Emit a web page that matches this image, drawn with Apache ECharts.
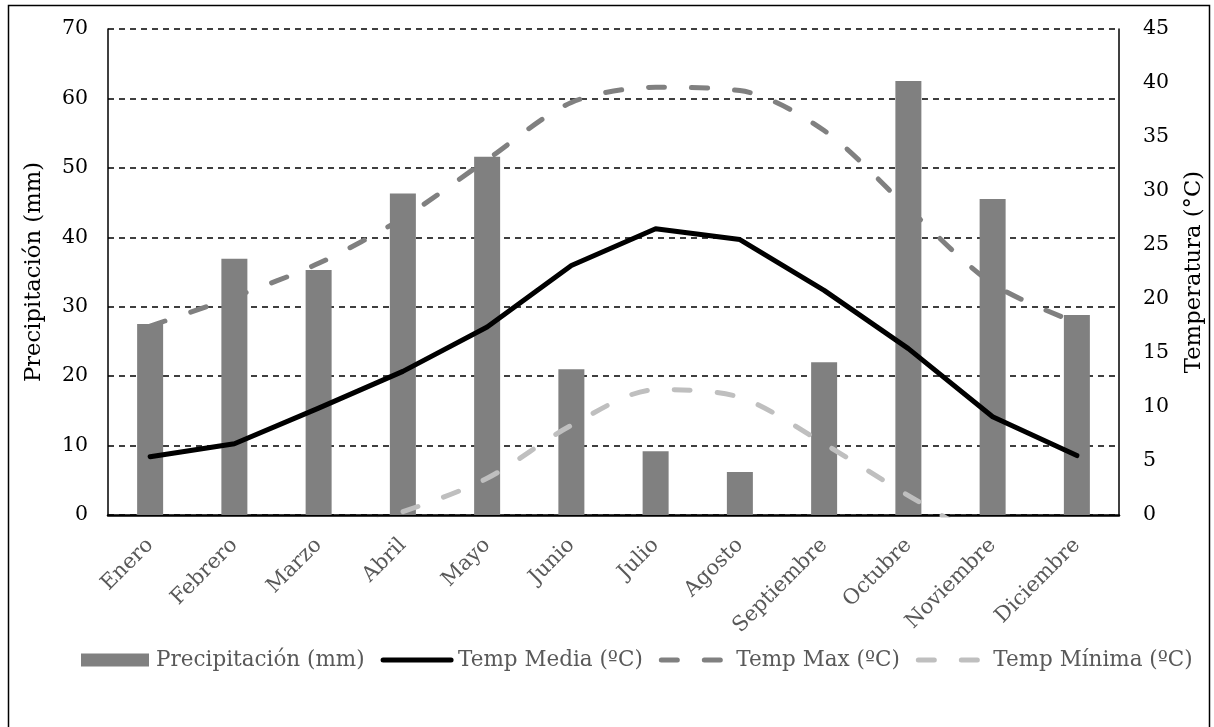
<!DOCTYPE html>
<html>
<head>
<meta charset="utf-8">
<script src="https://cdn.jsdelivr.net/npm/echarts@6/dist/echarts.min.js"></script>
<style>
  html, body { margin: 0; padding: 0; background: #fff; }
  #chart { width: 1214px; height: 727px; }
</style>
</head>
<body>
<div id="chart"></div>
<script>
// Climograma: precipitación mensual (barras) y temperaturas (líneas)
const months = ['Enero', 'Febrero', 'Marzo', 'Abril', 'Mayo', 'Junio', 'Julio',
  'Agosto', 'Septiembre', 'Octubre', 'Noviembre', 'Diciembre'];
const precipitation = [27.5, 36.9, 35.3, 46.3, 51.6, 21.0, 9.2, 6.2, 22.0, 62.5, 45.5, 28.8];
const tempMedia = [5.4, 6.6, 9.9, 13.3, 17.4, 23.1, 26.5, 25.5, 20.8, 15.4, 9.1, 5.5];
const tempMax = [17.5, 20.2, 23.3, 27.5, 32.9, 38.2, 39.6, 39.3, 35.6, 28.4, 21.4, 17.8];
const tempMin = [-4.0, -3.2, -2.0, 0.3, 3.4, 8.3, 11.6, 10.9, 6.6, 1.8, -2.5, -4.5];

const FONT = 'DejaVu Serif';
const DASH = [16, 27];
const hideSymbol = { opacity: 0 };
const chart = echarts.init(document.getElementById('chart'));

chart.setOption({
  animation: false,
  backgroundColor: '#fff',
  textStyle: { fontFamily: FONT },
  graphic: [{
    type: 'rect',
    shape: { x: 8.5, y: 5.5, width: 1201, height: 740 },
    style: { fill: 'none', stroke: '#000', lineWidth: 1.5 },
    silent: true,
    z: -10
  }],
  grid: { left: 108, right: 95, top: 29, bottom: 212, containLabel: false },
  legend: {
    left: 76,
    top: 644,
    itemWidth: 68,
    itemHeight: 13,
    itemGap: 16,
    textStyle: { fontFamily: FONT, fontSize: 21.5, color: '#595959', padding: [0, 0, 0, 2] },
    data: [
      { name: 'Precipitación (mm)', icon: 'rect' },
      { name: 'Temp Media (ºC)', itemStyle: hideSymbol,
        lineStyle: { width: 5, cap: 'round' } },
      { name: 'Temp Max (ºC)', itemStyle: hideSymbol,
        lineStyle: { width: 5, cap: 'round', type: DASH } },
      { name: 'Temp Mínima (ºC)', itemStyle: hideSymbol,
        lineStyle: { width: 5, cap: 'round', type: DASH } }
    ]
  },
  xAxis: {
    type: 'category',
    data: months,
    axisLine: { lineStyle: { color: '#000', width: 2.5 } },
    axisTick: { show: false },
    axisLabel: {
      rotate: 45,
      margin: 27,
      interval: 0,
      fontFamily: FONT,
      fontSize: 21,
      color: '#595959'
    }
  },
  yAxis: [{
    type: 'value',
    min: 0, max: 70, interval: 10,
    name: 'Precipitación (mm)',
    nameLocation: 'middle',
    nameRotate: 90,
    nameGap: 62,
    nameTextStyle: { fontFamily: FONT, fontSize: 22.7, color: '#000' },
    axisLine: { show: true, lineStyle: { color: '#000', width: 1.5 } },
    axisTick: { show: false },
    axisLabel: { margin: 20, fontFamily: FONT, fontSize: 20.5, color: '#000' },
    splitLine: { lineStyle: { color: '#000', width: 1.5, type: [6, 5] } }
  }, {
    type: 'value',
    min: 0, max: 45, interval: 5,
    position: 'right',
    name: 'Temperatura (°C)',
    nameLocation: 'middle',
    nameRotate: 90,
    nameGap: 64,
    nameTextStyle: { fontFamily: FONT, fontSize: 22.7, color: '#000' },
    axisLine: { show: true, lineStyle: { color: '#000', width: 1.5 } },
    axisTick: { show: false },
    axisLabel: { margin: 24, fontFamily: FONT, fontSize: 20.5, color: '#000' },
    splitLine: { show: false }
  }],
  series: [{
    name: 'Precipitación (mm)',
    type: 'bar',
    data: precipitation,
    yAxisIndex: 0,
    barWidth: 26,
    itemStyle: { color: '#808080' },
    z: 2
  }, {
    name: 'Temp Media (ºC)',
    type: 'line',
    data: tempMedia,
    yAxisIndex: 1,
    symbol: 'none',
    clip: true,
    lineStyle: { color: '#000', width: 5, cap: 'round', join: 'round' },
    itemStyle: { color: '#000' },
    z: 5
  }, {
    name: 'Temp Max (ºC)',
    type: 'line',
    data: tempMax,
    yAxisIndex: 1,
    symbol: 'none',
    smooth: 0.3,
    clip: true,
    lineStyle: { color: '#808080', width: 5, type: DASH, cap: 'round', join: 'round' },
    itemStyle: { color: '#808080' },
    z: 4
  }, {
    name: 'Temp Mínima (ºC)',
    type: 'line',
    data: tempMin,
    yAxisIndex: 1,
    symbol: 'none',
    smooth: 0.3,
    clip: true,
    lineStyle: { color: '#bfbfbf', width: 5, type: DASH, cap: 'round', join: 'round' },
    itemStyle: { color: '#bfbfbf' },
    z: 3
  }]
});
</script>
</body>
</html>
